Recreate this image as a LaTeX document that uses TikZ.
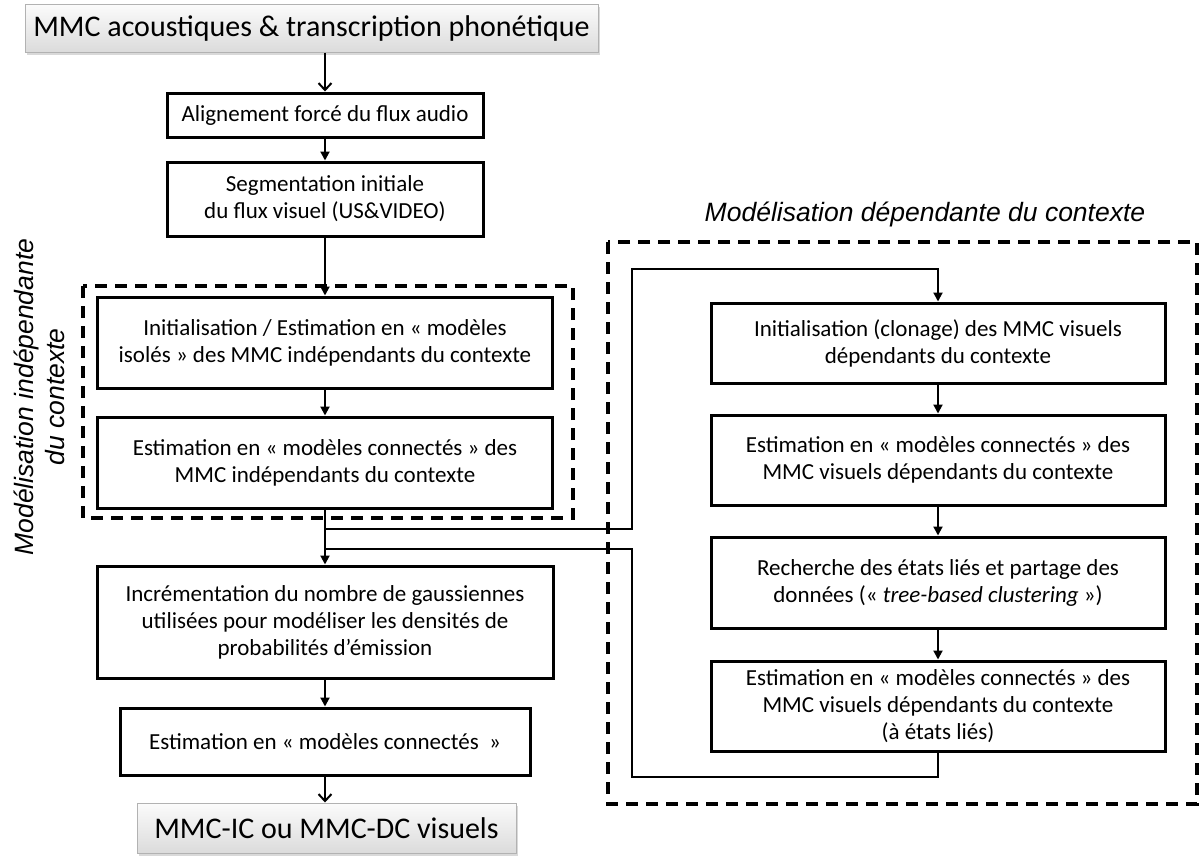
\documentclass[tikz,border=0pt]{standalone}
\usepackage{fontspec}
\setmainfont{Carlito}
\newfontfamily\titlefont{Liberation Sans}
\usetikzlibrary{arrows.meta,shadows}

\tikzset{
  stage/.style={draw,line width=3pt,align=center,inner sep=0pt,
    font=\fontsize{23}{27}\selectfont},
  io/.style={draw=gray!60,line width=1pt,top color=gray!3,bottom color=gray!28,
    inner sep=0pt,font=\fontsize{30}{34}\selectfont,
    drop shadow={shadow xshift=1.5pt,shadow yshift=-2.5pt,opacity=.3}},
  region/.style={line width=3.5pt,dash pattern=on 12pt off 8pt},
  wire/.style={line width=2pt},
  link/.style={wire,-{Triangle[length=9pt,width=9pt]}},
  flow/.style={wire,-{Straight Barb[length=7pt,width=13pt,line width=2pt]}},
  heading/.style={font=\titlefont\itshape\fontsize{26.5}{31}\selectfont,align=center},
}

\begin{document}
\begin{tikzpicture}[x=1pt,y=-1pt]
  \useasboundingbox (0,0) rectangle (1202,855);

  % left column
  \node[io,minimum width=573pt,minimum height=48pt] (src) at (311.5,28)
    {MMC acoustiques \& transcription phonétique};
  \node[stage,minimum width=316pt,minimum height=44pt] (align) at (325,115)
    {Alignement forcé du flux audio};
  \node[stage,minimum width=316pt,minimum height=74pt] (seg) at (325,199)
    {Segmentation initiale\\du flux visuel (US\&VIDEO)};
  \node[stage,minimum width=455pt,minimum height=91pt] (initic) at (325,342.5)
    {Initialisation / Estimation en « modèles\\isolés » des MMC indépendants du contexte};
  \node[stage,minimum width=455pt,minimum height=91pt] (estic) at (325,462.5)
    {Estimation en « modèles connectés » des\\MMC indépendants du contexte};
  \node[stage,minimum width=456pt,minimum height=112pt] (incr) at (325,622)
    {Incrémentation du nombre de gaussiennes\\utilisées pour modéliser les densités de\\probabilités d’émission};
  \node[stage,minimum width=410pt,minimum height=67pt] (estall) at (325,741.5)
    {Estimation en « modèles connectés~~»};
  \node[io,minimum width=379pt,minimum height=50pt] (out) at (326.5,828)
    {MMC-IC ou MMC-DC visuels};

  % right column
  \node[stage,minimum width=454pt,minimum height=80pt] (initdc) at (938,343)
    {Initialisation (clonage) des MMC visuels\\dépendants du contexte};
  \node[stage,minimum width=454pt,minimum height=90pt] (estdc) at (938,460)
    {Estimation en « modèles connectés » des\\MMC visuels dépendants du contexte};
  \node[stage,minimum width=454pt,minimum height=91pt] (tree) at (938,582.5)
    {Recherche des états liés et partage des\\données (« \textit{tree-based clustering} »)};
  \node[stage,minimum width=454pt,minimum height=90pt] (tied) at (938,706)
    {Estimation en « modèles connectés » des\\MMC visuels dépendants du contexte\\(à états liés)};

  % dashed groups and their titles
  \draw[region] (83,286) rectangle (573,518);
  \draw[region] (608,242) rectangle (1197,804);
  \node[heading] (dctitle) at (925,214) {Modélisation dépendante du contexte};
  \node[heading,rotate=90] (ictitle) at (39,397) {Modélisation indépendante\\du contexte};

  % connectors
  \draw[flow] (src.south -| align.north) -- (align.north);
  \draw[link] (align) -- (seg);
  \draw[link] (seg) -- (initic);
  \draw[link] (initic) -- (estic);
  \draw[link] (estic) -- (incr);
  \draw[link] (incr) -- (estall);
  \draw[flow] (estall) -- (out.north -| estall.south);
  \draw[link] (initdc) -- (estdc);
  \draw[link] (estdc) -- (tree);
  \draw[link] (tree) -- (tied);

  % loop through the context-dependent stages
  \coordinate (fork) at (325,529);
  \coordinate (join) at (325,549);
  \coordinate (loopnw) at (632,269);
  \coordinate (loopsw) at (632,777);
  \draw[link] (fork) -| (loopnw) -| (initdc.north);
  \draw[wire] (tied.south) |- (loopsw) |- (join);
\end{tikzpicture}
\end{document}
